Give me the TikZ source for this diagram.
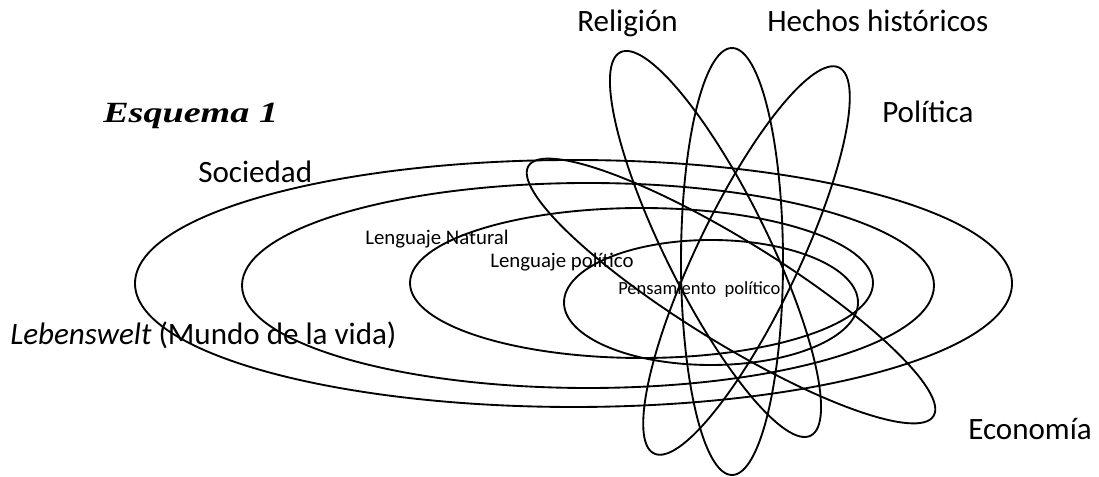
\documentclass[tikz,border=0pt]{standalone}
\usepackage{fontspec}
\setmainfont{Carlito}
\newfontfamily\esqfont{Liberation Serif}
\begin{document}
\begin{tikzpicture}[x=0.75pt,y=0.75pt,
  ring/.style={draw=black,line width=1.4pt},
  biglabel/.style={anchor=base west,inner sep=0pt,font=\fontsize{23.3pt}{28pt}\selectfont},
  smalllabel/.style={anchor=base west,inner sep=0pt,font=\fontsize{15.6pt}{18pt}\selectfont},
  tinylabel/.style={anchor=base west,inner sep=0pt,font=\fontsize{13.9pt}{16pt}\selectfont}]
\useasboundingbox (0,0) rectangle (1099,477);
% horizontal nested ellipses
\coordinate (cLeb) at (573.5,193.5);
\coordinate (cSoc) at (588,191.5);
\coordinate (cNat) at (641.5,194);
\coordinate (cPen) at (711,174.5);
\draw[ring] (cLeb) ellipse [x radius=438.5, y radius=123.5];
\draw[ring] (cSoc) ellipse [x radius=346, y radius=102.5];
\draw[ring] (cNat) ellipse [x radius=231.5, y radius=75];
\draw[ring] (cPen) ellipse [x radius=147, y radius=62.5];
% tilted ellipses
\coordinate (cRel) at (715.5,233);
\coordinate (cHec) at (732,215.5);
\coordinate (cPol) at (746.5,216.5);
\coordinate (cEco) at (731,186);
\draw[ring, rotate around={-63.6:(cRel)}] (cRel) ellipse [x radius=214, y radius=51];
\draw[ring] (cHec) ellipse [x radius=51, y radius=213.5];
\draw[ring, rotate around={64.4:(cPol)}] (cPol) ellipse [x radius=214, y radius=51];
\draw[ring, rotate around={-31.7:(cEco)}] (cEco) ellipse [x radius=238, y radius=51];
% labels
\node[anchor=base west,inner sep=0pt,font=\esqfont\bfseries\itshape\fontsize{22pt}{26pt}\selectfont] (esq) at (103,354) {\scalebox{1.3}[1]{Esquema 1}};
\node[biglabel] (soc) at (198,294) {Sociedad};
\node[biglabel] (leb) at (10,132) {\textit{Lebenswelt} (Mundo de la vida)};
\node[biglabel] (rel) at (577,445) {Religión};
\node[biglabel] (hec) at (767,445) {Hechos históricos};
\node[biglabel] (pol) at (882,354) {Política};
\node[biglabel] (eco) at (968,37) {Economía};
\node[smalllabel] (nat) at (365,232) {Lenguaje Natural};
\node[smalllabel] (lpo) at (490,209) {Lenguaje político};
\node[tinylabel] (pen) at (618,182) {Pensamiento\ \ político};
\end{tikzpicture}
\end{document}
